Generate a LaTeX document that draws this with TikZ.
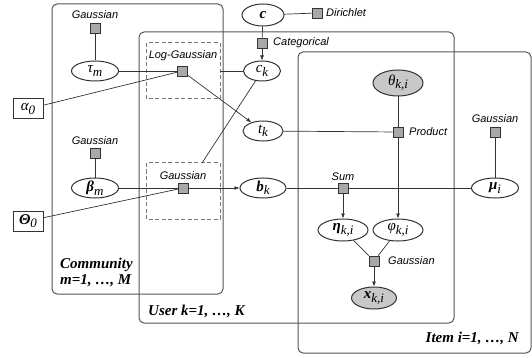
\documentclass[tikz,border=0pt]{standalone}
\usepackage{fontspec}
\setmainfont{Liberation Serif}
\newfontfamily\facfont{Liberation Sans}
\usetikzlibrary{arrows.meta,shapes.geometric}
\definecolor{linec}{HTML}{333333}
\definecolor{platec}{HTML}{555555}
\definecolor{facc}{HTML}{A8A8A8}
\definecolor{obsc}{HTML}{C8C8C8}
\newcommand{\vs}[2]{#1\raisebox{-0.5ex}{\mdseries\fontsize{13}{13}\selectfont #2}}
\begin{document}
\begin{tikzpicture}[x=1pt,y=-1pt,
  plate/.style={draw=platec,line width=1pt,rounded corners=5pt},
  gatebox/.style={draw=platec!80,line width=1pt,dash pattern=on 4pt off 2.5pt},
  var/.style={ellipse,draw=linec,fill=white,line width=1pt,inner sep=0pt,minimum height=20pt,font=\itshape\fontsize{15}{17}\selectfont},
  bvar/.style={var,font=\bfseries\itshape\fontsize{15}{17}\selectfont},
  obs/.style={var,fill=obsc},
  fac/.style={rectangle,draw=linec,fill=facc,line width=0.6pt,minimum size=10pt,inner sep=0pt},
  hyp/.style={rectangle,draw=linec,fill=white,line width=1pt,minimum width=30pt,minimum height=20pt,inner sep=0pt,font=\itshape\fontsize{15}{17}\selectfont},
  flab/.style={font=\facfont\itshape\fontsize{11}{13}\selectfont,inner sep=0pt},
  plab/.style={font=\bfseries\itshape\fontsize{15}{17}\selectfont,inner sep=0pt},
  edge/.style={draw=linec,line width=0.7pt},
  arr/.style={edge,-{Latex[length=5pt,width=4pt]}}]
\useasboundingbox (0,0) rectangle (532,358);
% plates
\draw[plate] (52,4) rectangle (223,294);
\draw[plate] (139,32) rectangle (454,323);
\draw[plate] (298,52) rectangle (531,353);
% gate boxes
\draw[gatebox] (146,43) rectangle (220,99);
\draw[gatebox] (146,163) rectangle (220,219);
\coordinate (lgR) at (220,71);
\coordinate (gT) at (202,163);
% nodes
\node[bvar,minimum width=42pt,minimum height=22pt] (c) at (263,15) {c};
\node[fac] (fdir) at (317,13) {};
\node[flab,anchor=west] at (326,13) {Dirichlet};
\node[fac] (fcat) at (262,43) {};
\node[flab,anchor=west] at (273,43) {Categorical};
\node[var,minimum width=37pt] (ck) at (262,71) {\vs{c}{k}};
\node[fac] (flg) at (182,71) {};
\node[flab] at (183,56) {Log-Gaussian};
\node[var,minimum width=47pt] (tau) at (95,71) {\vs{τ}{m}};
\node[fac] (ftau) at (95,28) {};
\node[flab] at (95,15) {Gaussian};
\node[hyp] (alpha) at (28,109) {\vs{α}{0}};
\node[var,minimum width=40pt] (tk) at (263,131) {\vs{t}{k}};
\node[obs,minimum width=50pt,minimum height=26pt] (theta) at (398,83) {\vs{θ}{k,i}};
\node[fac] (fprod) at (398,132) {};
\node[flab,anchor=west] at (409,132) {Product};
\node[fac] (fmu) at (495,132) {};
\node[flab] at (495,119) {Gaussian};
\node[bvar,minimum width=47pt] (mu) at (495,188) {\vs{μ}{i}};
\node[bvar,minimum width=47pt] (beta) at (95,188) {\vs{β}{m}};
\node[fac] (fbeta) at (95,153) {};
\node[flab] at (95,141) {Gaussian};
\node[hyp,font=\bfseries\itshape\fontsize{15}{17}\selectfont] (Theta) at (28,221) {\vs{Θ}{0}};
\node[fac] (fb) at (183,188) {};
\node[flab] at (183,176) {Gaussian};
\node[bvar,minimum width=46pt] (bk) at (263,188) {\vs{b}{k}};
\node[fac] (fsum) at (343,188) {};
\node[flab] at (343,177) {Sum};
\node[bvar,minimum width=50pt,minimum height=22pt] (eta) at (343,230) {\vs{η}{k,i}};
\node[var,minimum width=50pt,minimum height=22pt] (phi) at (398,230) {\vs{φ}{k,i}};
\node[fac] (fx) at (374,261) {};
\node[flab,anchor=west] at (388,261) {Gaussian};
\node[obs,minimum width=45pt,minimum height=22pt,font=\bfseries\itshape\fontsize{15}{17}\selectfont] (x) at (374,298) {\vs{x}{k,i}};
% plate labels
\node[plab,anchor=west] at (60,265) {Community};
\node[plab,anchor=west] at (60,281) {m=1, \ldots, M};
\node[plab,anchor=west] at (148,311) {User k=1, \ldots, K};
\node[plab,anchor=east] at (519,338) {Item i=1, \ldots, N};
% edges
\draw[edge] (ftau) -- (tau);
\draw[edge] (tau) -- (flg);
\draw[edge] (alpha) -- (flg);
\draw[edge] (lgR) -- (ck);
\draw[edge] (ck) -- (gT);
\draw[arr] (flg) -- (tk);
\draw[edge] (c) -- (fcat);
\draw[arr] (fcat) -- (ck);
\draw[edge] (c) -- (fdir);
\draw[edge] (tk) -- (fprod);
\draw[edge] (theta) -- (fprod);
\draw[arr] (fprod) -- (phi);
\draw[edge] (fmu) -- (mu);
\draw[edge] (mu) -- (fsum);
\draw[edge] (bk) -- (fsum);
\draw[arr] (fsum) -- (eta);
\draw[edge] (eta) -- (fx);
\draw[edge] (phi) -- (fx);
\draw[arr] (fx) -- (x);
\draw[edge] (fbeta) -- (beta);
\draw[edge] (beta) -- (fb);
\draw[edge] (Theta) -- (fb);
\draw[arr] (fb) -- (bk);
\end{tikzpicture}
\end{document}
